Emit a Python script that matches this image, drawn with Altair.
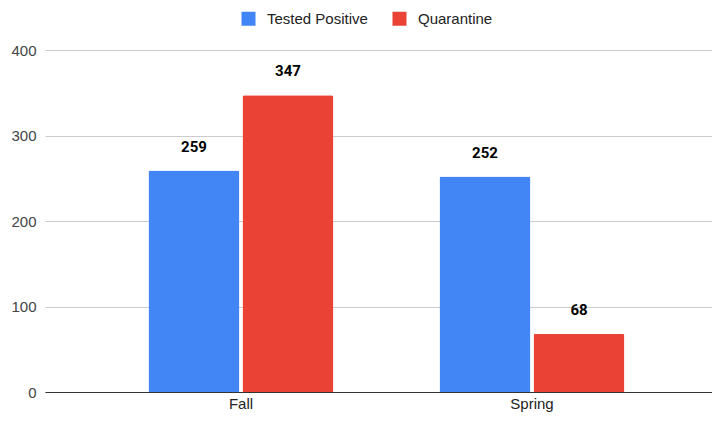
import altair as alt
import pandas as pd

seasons = ["Fall", "Fall", "Spring", "Spring"]
series = ["Tested Positive", "Quarantine", "Tested Positive", "Quarantine"]
values = [259, 347, 252, 68]
series_order = ["Tested Positive", "Quarantine"]
colors = ["#4285F4", "#EA4335"]
y_ticks = [0, 100, 200, 300, 400]

df = pd.DataFrame({"season": seasons, "series": series, "value": values})

FONT = "Liberation Sans"
LABEL_FONT = "Roboto"

x = alt.X("season:N", title=None, sort=["Fall", "Spring"],
          scale=alt.Scale(paddingInner=0, paddingOuter=0.146, align=0.594),
          axis=alt.Axis(labelAngle=0, ticks=False, domain=True, domainColor="#333333",
                        domainWidth=1, labelFont=FONT, labelFontSize=15,
                        labelColor="#222222", labelPadding=4))
xo = alt.XOffset("series:N", sort=series_order,
                 scale=alt.Scale(paddingInner=0.032, paddingOuter=0.564))
y = alt.Y("value:Q", title=None,
          scale=alt.Scale(domain=[0, 400], nice=False),
          axis=alt.Axis(values=y_ticks, ticks=False, domain=False, grid=True,
                        gridColor="#cccccc", labelFont=FONT, labelFontSize=15,
                        labelColor="#444444", labelPadding=9))

bars = alt.Chart(df).mark_bar(cornerRadiusTopLeft=2, cornerRadiusTopRight=2).encode(
    x=x, xOffset=xo, y=y,
    color=alt.Color("series:N", sort=series_order,
                    scale=alt.Scale(domain=series_order, range=colors),
                    legend=alt.Legend(title=None, orient="none", direction="horizontal",
                                      legendX=196, legendY=-39, symbolType="square",
                                      symbolSize=196, symbolStrokeWidth=0,
                                      labelFont=FONT, labelFontSize=15,
                                      labelColor="#222222", columnPadding=24,
                                      symbolOffset=0, labelOffset=11)),
)

labels = alt.Chart(df).mark_text(baseline="bottom", dy=-16, font=LABEL_FONT, fontSize=15,
                                 fontWeight="bold", color="#000000").encode(
    x=alt.X("season:N", sort=["Fall", "Spring"]), xOffset=alt.XOffset("series:N", sort=series_order),
    y="value:Q", text="value:Q")

chart = alt.layer(bars, labels).properties(
    width=667, height=342,
    autosize=alt.AutoSizeParams(type="none"),
    padding={"left": 37, "top": 42, "right": 0, "bottom": 21},
).configure_view(stroke=None)

chart.save("out.html", embed_options={"renderer": "svg", "actions": False})
